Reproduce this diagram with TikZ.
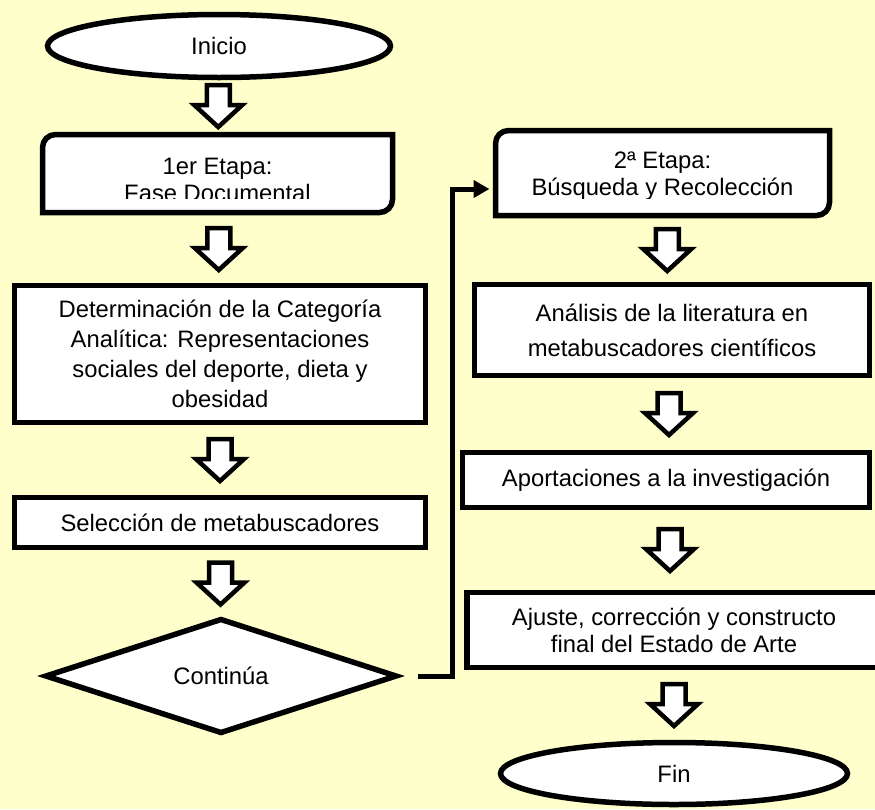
\documentclass[tikz,border=0pt]{standalone}
\usepackage{fontspec}
\setmainfont{Liberation Sans}
\usetikzlibrary{arrows.meta, positioning, shapes.geometric, calc}
\definecolor{fondo}{HTML}{FFFFCC}

% marco con dos esquinas redondeadas (arriba-izq. y abajo-der.)
\newcommand{\etapamarco}[1]{%
  \filldraw[fill=white, line width=5.5pt] (#1.south west) [rounded corners=13pt] -- (#1.north west)
    [sharp corners] -- (#1.north east) [rounded corners=13pt] -- (#1.south east)
    [sharp corners] -- (#1.south west) -- cycle;}

\begin{document}
\begin{tikzpicture}[x=1pt, y=-1pt,
    texto/.style={font=\fontsize{23.8}{27}\selectfont, align=center, inner sep=0pt, outer sep=0pt},
    caja/.style={texto, draw, fill=white, line width=5.5pt},
    terminal/.style={texto, ellipse, draw, fill=white, line width=5.5pt},
    decision/.style={texto, diamond, draw, fill=white, line width=5.5pt},
    enlace/.style={line width=5pt, -{Triangle[length=16pt,width=17pt]}},
    flecha/.pic={\filldraw[fill=white, line width=4.5pt] (-11.5,-21) -- (11.5,-21) -- (11.5,-1)
      -- (24,-1) -- (0,21) -- (-24,-1) -- (-11.5,-1) -- cycle;}]
  \fill[fondo] (0,0) rectangle (875,809);
  \useasboundingbox (0,0) rectangle (875,809);

  % columna izquierda
  \node[terminal, minimum width=343pt, minimum height=63pt] (inicio) at (219,46) {Inicio};
  \node[texto, minimum width=350pt, minimum height=78pt] (e1) at (217.5,173.5) {};
  \etapamarco{e1}
  \begin{scope}
    \clip (e1.north west) rectangle ($(e1.east)+(0,24.5)$);
    \node[texto] (e1t) at ($(e1.center)+(0,6.5)$) {1er Etapa:\\Fase Documental};
  \end{scope}
  \node[caja, minimum width=411pt, minimum height=137pt, font=\fontsize{23.8}{30}\selectfont] (det) at (220,354)
    {Determinación de la Categoría\\Analítica: Representaciones\\sociales del deporte, dieta y\\obesidad};
  \node[caja, minimum width=411pt, minimum height=50pt] (sel) at (220,522.5) {Selección de metabuscadores};
  \node[decision, minimum width=350pt, minimum height=101pt] (cont) at (221,676) {Continúa};

  % columna derecha
  \node[texto, minimum width=334pt, minimum height=85pt] (e2) at (662.5,173) {};
  \etapamarco{e2}
  \begin{scope}
    \clip (e2.north west) rectangle ($(e2.east)+(0,25)$);
    \node[texto] (e2t) at ($(e2.center)+(0,3.5)$) {2ª Etapa:\\Búsqueda y Recolección};
  \end{scope}
  \node[caja, minimum width=395pt, minimum height=91pt, font=\fontsize{23.8}{35}\selectfont] (ana) at (672,330)
    {Análisis de la literatura en\\metabuscadores científicos};
  \node[caja, minimum width=407pt, minimum height=55pt] (apo) at (666,480) {Aportaciones a la investigación};
  \node[caja, minimum width=414pt, minimum height=75pt] (aju) at (674,630)
    {Ajuste, corrección y constructo\\final del Estado de Arte};
  \node[terminal, minimum width=347pt, minimum height=62pt] (fin) at (674,773.5) {Fin};

  % flechas de bloque
  \pic at ($(inicio.south)!0.5!(e1.north)$) {flecha};
  \pic at ($(e1.south)!0.5!(det.north)$) {flecha};
  \pic at ($(det.south)!0.5!(sel.north)$) {flecha};
  \pic at ($(sel.south)!0.5!(cont.north)$) {flecha};
  \pic at ($(e2.south)!0.5!(ana.north)$) {flecha};
  \pic at ($(ana.south)!0.5!(apo.north)$) {flecha};
  \pic at ($(apo.south)!0.5!(aju.north)$) {flecha};
  \pic at ($(aju.south)!0.5!(fin.north)$) {flecha};

  % enlace entre etapas
  \coordinate (giro) at (452,189);
  \draw[enlace, shorten <=22pt, shorten >=6pt] (cont.east) -| (giro) -- (e2.west |- giro);
\end{tikzpicture}
\end{document}
